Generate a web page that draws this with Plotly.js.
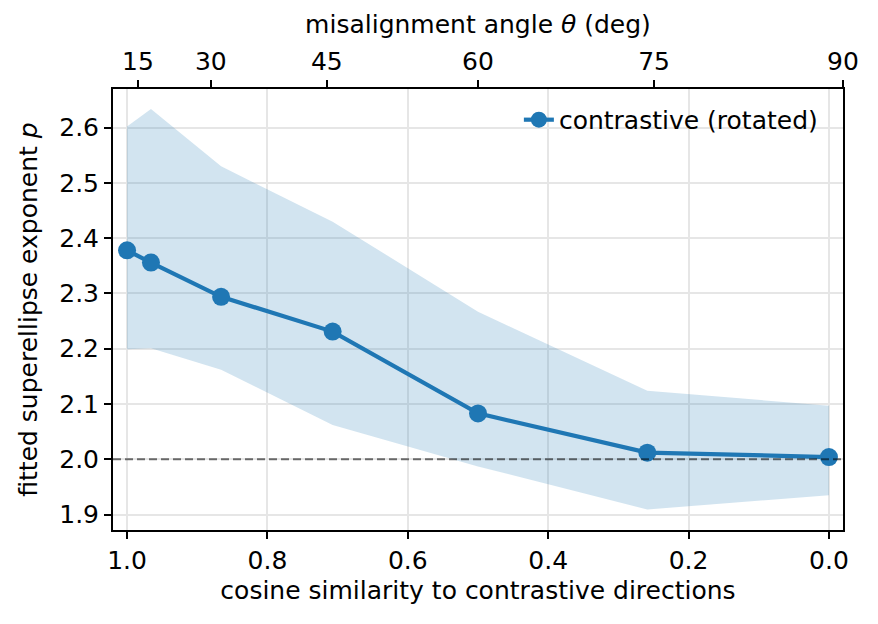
<!DOCTYPE html>
<html>
<head>
<meta charset="utf-8">
<script src="https://cdn.plot.ly/plotly-3.0.1.min.js"></script>
<style>
  html, body { margin: 0; padding: 0; background: #fff; }
  #chart { width: 878px; height: 624px; }
</style>
</head>
<body>
<div id="chart"></div>
<script>
// cosine similarity of each rotated run (theta = 0, 15, ..., 90 deg)
var cosSim = [1.0, 0.9659, 0.8660, 0.7071, 0.5, 0.2588, 0.0]
var pMean = [2.378, 2.356, 2.294, 2.231, 2.083, 2.012, 2.004]
var pUpper = [2.602, 2.634, 2.530, 2.430, 2.267, 2.124, 2.097]
var pLower = [2.199, 2.201, 2.162, 2.062, 1.987, 1.909, 1.935]

// top axis: angle labels sit at cos(theta)
var angleTickPos = [0.9659, 0.8660, 0.7071, 0.5, 0.2588, 0.0]
var angleTickText = ['15', '30', '45', '60', '75', '90']

var baselineP = 2.0

var blue = '#1f77b4'
var font = 'DejaVu Sans, Verdana, sans-serif'
var fs = 25
var titleFont = { family: font, size: fs, color: '#000' }

var traces = [
  {
    x: cosSim,
    y: pUpper,
    mode: 'lines',
    line: { width: 0 },
    showlegend: false,
    hoverinfo: 'skip'
  },
  {
    x: cosSim,
    y: pLower,
    mode: 'lines',
    line: { width: 0 },
    fill: 'tonexty',
    fillcolor: 'rgba(31,119,180,0.2)',
    showlegend: false,
    hoverinfo: 'skip'
  },
  {
    x: cosSim,
    y: pMean,
    mode: 'lines+markers',
    name: 'contrastive (rotated)',
    line: { color: blue, width: 4.2 },
    marker: { color: blue, size: 18 }
  },
  {
    // keeps the top axis alive
    x: angleTickPos,
    y: angleTickPos.map(function () { return null }),
    xaxis: 'x2',
    mode: 'lines',
    showlegend: false,
    hoverinfo: 'skip'
  }
]

var layout = {
  width: 878,
  height: 624,
  paper_bgcolor: '#fff',
  plot_bgcolor: '#fff',
  font: { family: font, size: fs, color: '#000' },
  margin: { l: 113, r: 35, t: 89, b: 94 },
  showlegend: true,
  legend: {
    x: 0.556,
    y: 0.982,
    xanchor: 'left',
    yanchor: 'top',
    bgcolor: 'rgba(0,0,0,0)',
    font: titleFont
  },
  xaxis: {
    range: [1.02, -0.02],
    tickvals: [1.0, 0.8, 0.6, 0.4, 0.2, 0.0],
    tickformat: '.1f',
    tickfont: titleFont,
    ticks: 'outside',
    ticklen: 7,
    tickwidth: 2,
    tickcolor: '#000',
    showline: true,
    linecolor: '#000',
    linewidth: 2,
    showgrid: true,
    gridcolor: '#e6e6e6',
    gridwidth: 2,
    zeroline: false,
    title: { text: 'cosine similarity to contrastive directions', font: titleFont, standoff: 7 }
  },
  xaxis2: {
    overlaying: 'x',
    side: 'top',
    range: [1, 0],
    tickvals: angleTickPos,
    ticktext: angleTickText,
    tickfont: titleFont,
    ticks: 'outside',
    ticklen: 7,
    tickwidth: 2,
    tickcolor: '#000',
    showline: true,
    linecolor: '#000',
    linewidth: 2,
    showgrid: false,
    zeroline: false,
    title: { text: 'misalignment angle <i>θ</i> (deg)', font: titleFont, standoff: 6 }
  },
  yaxis: {
    range: [1.872, 2.670],
    tickvals: [1.9, 2.0, 2.1, 2.2, 2.3, 2.4, 2.5, 2.6],
    tickformat: '.1f',
    tickfont: titleFont,
    ticks: 'outside',
    ticklen: 7,
    tickwidth: 2,
    tickcolor: '#000',
    showline: true,
    mirror: true,
    linecolor: '#000',
    linewidth: 2,
    showgrid: true,
    gridcolor: '#e6e6e6',
    gridwidth: 2,
    zeroline: false,
    title: { text: 'fitted superellipse exponent <i>p</i>', font: titleFont, standoff: 14 }
  },
  shapes: [
    {
      type: 'line',
      xref: 'paper',
      yref: 'y',
      x0: 0,
      x1: 1,
      y0: baselineP,
      y1: baselineP,
      layer: 'above',
      line: { color: 'rgba(0,0,0,0.55)', width: 2, dash: '8px,4px' }
    }
  ]
}

Plotly.newPlot('chart', traces, layout, { displayModeBar: false, staticPlot: true })
</script>
</body>
</html>
